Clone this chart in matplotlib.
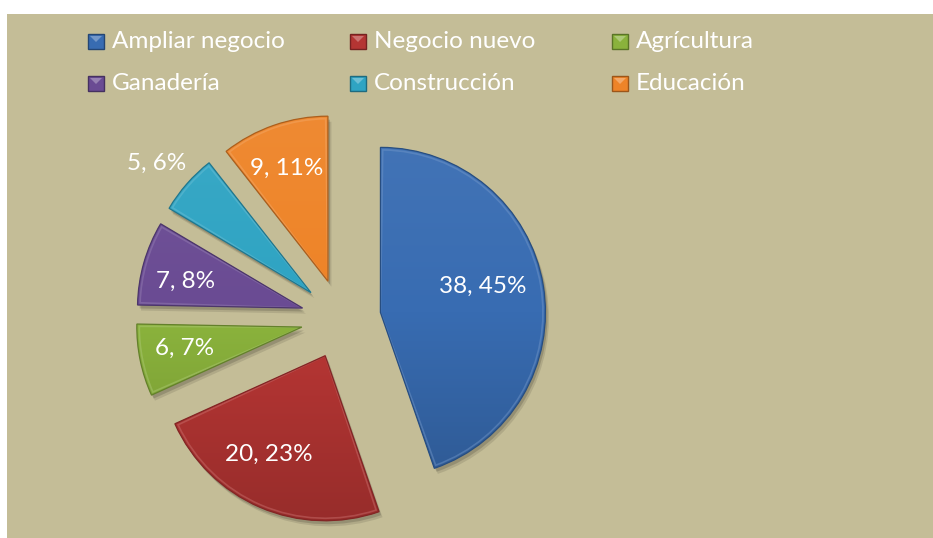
import numpy as np
import matplotlib
matplotlib.use("Agg")
import matplotlib.pyplot as plt
from matplotlib.patches import Rectangle, Wedge
from matplotlib.colors import LinearSegmentedColormap, to_rgb
import matplotlib.patheffects as pe

# ---------------- data ----------------
categories = ["Ampliar negocio", "Negocio nuevo", "Agrícultura",
              "Ganadería", "Construcción", "Educación"]
values = [38, 20, 6, 7, 5, 9]
percents = ["45%", "23%", "7%", "8%", "6%", "11%"]

# ---------------- style ----------------
colors = ["#386CB2", "#B43533", "#8AB23C", "#6A4B93", "#2FA4C3", "#EE8428"]
label_dist = [0.64, 0.69, 0.72, 0.73, 1.22, 0.73]
label_rot = [5, -6.6, -1.5, 3, 1.4, 1]
BG = "#C4BD97"
FONT = ["Lato", "DejaVu Sans"]
W, H = 933, 538

def shade(c, f):
    r, g, b = to_rgb(c)
    if f < 1:
        return (r * f, g * f, b * f)
    f = f - 1
    return (r + (1 - r) * f, g + (1 - g) * f, b + (1 - b) * f)

fig = plt.figure(figsize=(W / 100, H / 100), dpi=100, facecolor="white")
ax = fig.add_axes([0, 0, 1, 1])
ax.axis("off")
ax.add_patch(Rectangle((7, 0), W - 7, H - 14, facecolor=BG, edgecolor="none", zorder=0))

wedges, _ = ax.pie(values, colors=colors, startangle=90, counterclock=False,
                   radius=165, center=(341, 219), explode=[40] * len(values),
                   wedgeprops=dict(linewidth=0))

for i, w in enumerate(wedges):
    c = colors[i]
    w.set_zorder(2)
    w.set_path_effects([
        pe.SimplePatchShadow(offset=(2.5, -4), shadow_rgbFace="black", alpha=0.10),
        pe.SimplePatchShadow(offset=(1.5, -2.5), shadow_rgbFace="black", alpha=0.15),
        pe.Normal()])
    cx, cy = w.center
    r = w.r
    cmap = LinearSegmentedColormap.from_list("g", [shade(c, 0.84), shade(c, 1.0), shade(c, 1.05)])
    grad = np.linspace(0, 1, 256).reshape(-1, 1)
    im = ax.imshow(grad, extent=(cx - r, cx + r, cy - r, cy + r), origin="lower",
                   cmap=cmap, aspect="auto", zorder=2.1, interpolation="bilinear")
    im.set_clip_path(w)
    ax.add_patch(Wedge((cx, cy), r - 2.5, w.theta1 + 0.8, w.theta2 - 0.8, fill=False,
                       edgecolor=shade(c, 1.3), linewidth=1.2, alpha=0.45, zorder=2.2))
    ax.add_patch(Wedge((cx, cy), r, w.theta1, w.theta2, fill=False,
                       edgecolor=shade(c, 0.72), linewidth=0.9, zorder=2.3))
    mid = np.deg2rad((w.theta1 + w.theta2) / 2 + label_rot[i])
    tx = cx + label_dist[i] * r * np.cos(mid)
    ty = cy + label_dist[i] * r * np.sin(mid)
    ax.text(tx, ty, f"{values[i]}, {percents[i]}", color="white", fontsize=17.5,
            family=FONT, ha="center", va="center", zorder=5)

# ---------------- legend ----------------
col_x = [88, 350, 612]
row_y = [49, 91]  # bottom of marker, pixel coords from top
for i, cat in enumerate(categories):
    col = i % 3
    row = i // 3
    x0 = col_x[col]
    yb = H - row_y[row]
    c = colors[i]
    ax.add_patch(Rectangle((x0, yb), 16, 15, facecolor=c, edgecolor=shade(c, 0.65),
                           linewidth=1, zorder=5))
    ax.add_patch(plt.Polygon([(x0 + 2, yb + 13), (x0 + 14, yb + 13), (x0 + 8, yb + 7)],
                             closed=True, facecolor=shade(c, 1.3), edgecolor="none", zorder=6))
    ax.text(x0 + 24, H - row_y[row] + 1, cat, color="white", fontsize=17.5, family=FONT,
            ha="left", va="baseline", zorder=5)

ax.set_xlim(0, W)
ax.set_ylim(0, H)
ax.set_aspect("auto")
fig.savefig("out.png", dpi=100, facecolor="white")
